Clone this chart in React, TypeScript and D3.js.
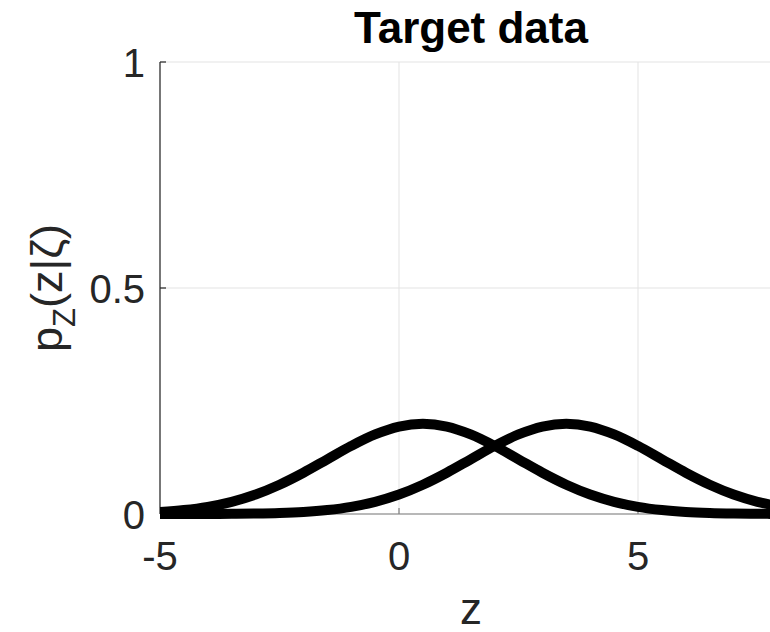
import React from "react";
import * as d3 from "d3";

const zValues = [-5, -4.5, -4, -3.5, -3, -2.5, -2, -1.5, -1, -0.5, 0, 0.5, 1, 1.5, 2, 2.5, 3, 3.5, 4, 4.5, 5, 5.5, 6, 6.5, 7, 7.5, 8];
const densityA = [0.0045, 0.0088, 0.0159, 0.027, 0.0431, 0.0648, 0.0913, 0.121, 0.1506, 0.176, 0.1934, 0.1995, 0.1934, 0.176, 0.1506, 0.121, 0.0913, 0.0648, 0.0431, 0.027, 0.0159, 0.0088, 0.0045, 0.0022, 0.001, 0.0004, 0.0002];
const densityB = [0.0000, 0.0001, 0.0002, 0.0004, 0.001, 0.0022, 0.0045, 0.0088, 0.0159, 0.027, 0.0431, 0.0648, 0.0913, 0.121, 0.1506, 0.176, 0.1934, 0.1995, 0.1934, 0.176, 0.1506, 0.121, 0.0913, 0.0648, 0.0431, 0.027, 0.0159];
const xTicks = [-5, 0, 5];
const yTicks = [0, 0.5, 1];
const yTickLabels = ["0", "0.5", "1"];

export default function App() {
  const W = 770, H = 632;
  const left = 160, top = 62, bottom = 514;
  const x = d3.scaleLinear().domain([-5, 8]).range([left, left + 13 * 47.8]);
  const y = d3.scaleLinear().domain([0, 1]).range([bottom, top]);
  const right = x(8);
  const line = d3.line<number>().x((_, i) => x(zValues[i])).y((d) => y(d)).curve(d3.curveCatmullRom.alpha(0.5));
  const font = "'Liberation Sans', Arial, sans-serif";
  return (
    <svg width={W} height={H} style={{ position: "absolute", left: 0, top: 0, background: "#fff" }}>
      <defs>
        <clipPath id="plot">
          <rect x={left} y={top - 6} width={right - left} height={bottom - top + 12} />
        </clipPath>
      </defs>
      <rect x={0} y={0} width={W} height={H} fill="#fff" />
      {xTicks.map((t) => (
        <line key={"gx" + t} x1={x(t)} x2={x(t)} y1={top} y2={bottom} stroke="#e3e3e3" strokeWidth={1} />
      ))}
      {yTicks.map((t) => (
        <line key={"gy" + t} x1={left} x2={right} y1={y(t)} y2={y(t)} stroke="#e3e3e3" strokeWidth={1} />
      ))}
      <line x1={left} x2={right} y1={bottom} y2={bottom} stroke="#808080" strokeWidth={1.2} />
      <line x1={left} x2={left} y1={top} y2={bottom} stroke="#262626" strokeWidth={1.2} />
      {xTicks.map((t) => (
        <line key={"tx" + t} x1={x(t)} x2={x(t)} y1={bottom} y2={bottom - 6} stroke="#808080" strokeWidth={1.2} />
      ))}
      {yTicks.map((t) => (
        <line key={"ty" + t} x1={left} x2={left + 6} y1={y(t)} y2={y(t)} stroke="#262626" strokeWidth={1.2} />
      ))}
      <g clipPath="url(#plot)">
        <path d={line(densityA) || ""} fill="none" stroke="#000" strokeWidth={10} strokeLinejoin="round" />
        <path d={line(densityB) || ""} fill="none" stroke="#000" strokeWidth={10} strokeLinejoin="round" />
      </g>
      {xTicks.map((t) => (
        <text key={"lx" + t} x={x(t)} y={570} textAnchor="middle" fontFamily={font} fontSize={40} fill="#262626">
          {t < 0 ? "-" + Math.abs(t) : String(t)}
        </text>
      ))}
      {yTicks.map((t, i) => (
        <text key={"ly" + t} x={145} y={y(t) + 15} textAnchor="end" fontFamily={font} fontSize={40} fill="#262626">
          {yTickLabels[i]}
        </text>
      ))}
      <text x={471} y={43} textAnchor="middle" fontFamily={font} fontSize={44} fontWeight="bold" fill="#000">Target data</text>
      <text x={471} y={624} textAnchor="middle" fontFamily={font} fontSize={44} fill="#262626">z</text>
      <text transform={`translate(62, ${y(0.5)}) rotate(-90)`} textAnchor="middle" fontFamily={font} fontSize={45} fill="#262626">
        p<tspan fontSize={31} dy={13}>Z</tspan><tspan dy={-13}>(z|ζ)</tspan>
      </text>
    </svg>
  );
}
